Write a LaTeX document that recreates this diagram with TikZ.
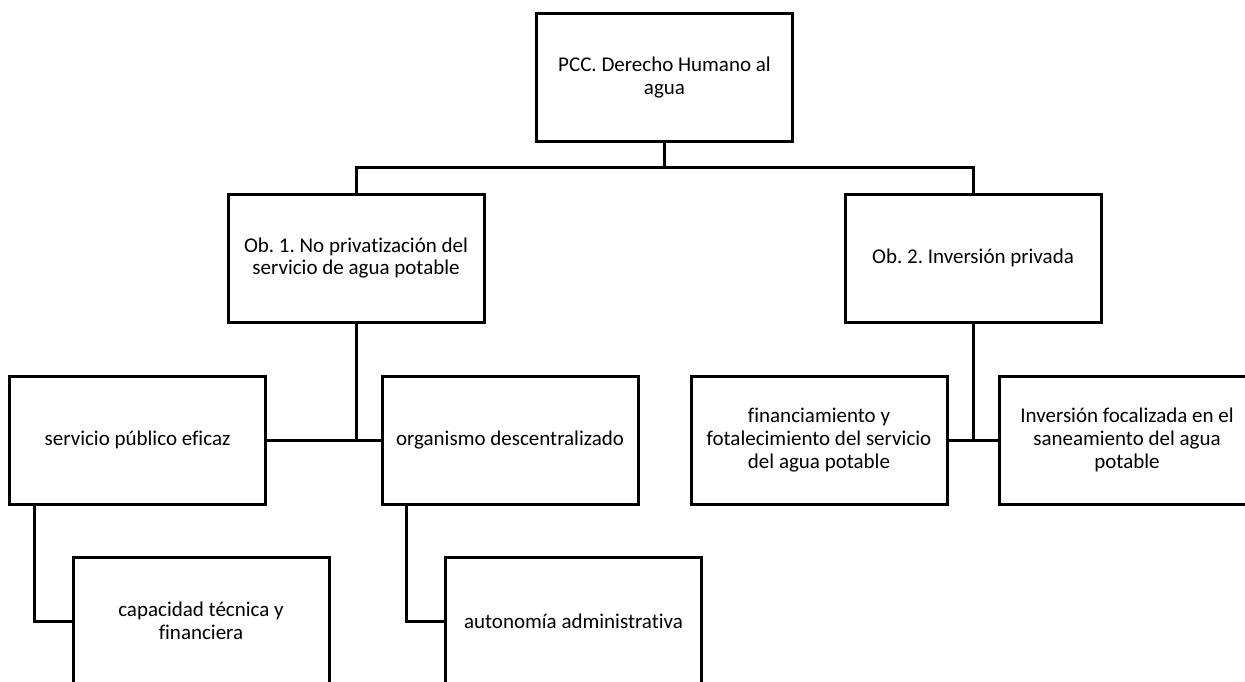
\documentclass[tikz,border=0pt]{standalone}
\usepackage{fontspec}
\setmainfont{Carlito}[Ligatures=NoCommon]
\frenchspacing
\begin{document}
\begin{tikzpicture}[x=1pt,y=-1pt,
  box/.style={draw=black, line width=3pt, rectangle, minimum width=256pt,
    minimum height=128pt, align=center, font=\fontsize{21}{22.7}\selectfont,
    inner sep=0pt},
  link/.style={draw=black, line width=3pt}]
\useasboundingbox (0,0) rectangle (1245,681);
\clip (0,0) rectangle (1245,681);
\fill[white] (0,0) rectangle (1245,681);

% tree nodes
\node[box] (pcc) at (664.5,77.5) {PCC. Derecho Humano al\\agua};
\node[box] (ob1) at (356,258) {Ob. 1. No privatización del\\servicio de agua potable};
\node[box] (ob2) at (973,258) {Ob. 2. Inversión privada};
\node[box] (serv) at (137.5,440) {servicio público eficaz};
\node[box] (org) at (510,440) {organismo descentralizado};
\node[box] (fin) at (819,440) {financiamiento y\\fotalecimiento del servicio\\del agua potable};
\node[box] (inv) at (1127,440) {Inversión focalizada en el\\saneamiento del agua\\potable};
\node[box] (cap) at (201,621) {capacidad técnica y\\financiera};
\node[box] (aut) at (573.5,621) {autonomía administrativa};

% junction points
\coordinate (top) at (664.5,167);
\coordinate (j1) at (356,440);
\coordinate (j2) at (973,440);

% connectors
\draw[link] (pcc.south) -- (top);
\draw[link] (ob1.north) |- (top) -| (ob2.north);
\draw[link] (serv.east) -- (org.west);
\draw[link] (ob1.south) -- (j1);
\draw[link] (fin.east) -- (inv.west);
\draw[link] (ob2.south) -- (j2);
\draw[link] (serv.south west) ++(26,0) |- (cap.west);
\draw[link] (org.south west) ++(26,0) |- (aut.west);
\end{tikzpicture}
\end{document}
